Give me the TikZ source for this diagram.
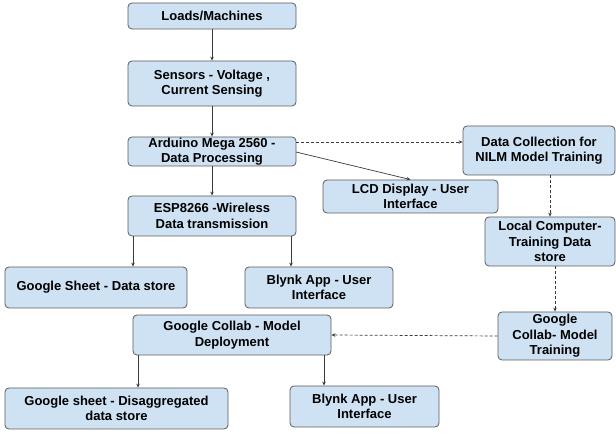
\documentclass[tikz,border=0pt]{standalone}
\usepackage{fontspec}
\setmainfont{Liberation Sans}
\usetikzlibrary{arrows.meta,calc}
\definecolor{boxfill}{HTML}{CFE2F3}
\definecolor{boxline}{HTML}{5B5B5B}
\definecolor{arrowcol}{HTML}{3A3A3A}
\tikzset{
  box/.style={draw=boxline, fill=boxfill, rounded corners=4pt, line width=0.8pt,
    align=center, inner sep=0pt,
    font=\bfseries\fontsize{13}{15.5}\selectfont},
  conn/.style={draw=arrowcol, line width=0.7pt, -{Stealth[length=4pt,width=3.5pt]}},
  dconn/.style={conn, dash pattern=on 3pt off 2pt}
}
\begin{document}
\begin{tikzpicture}[x=1pt,y=-1pt]
\useasboundingbox (0,0) rectangle (616,435);
\node[box, minimum width=168pt, minimum height=26pt] (loads) at (212,16) {Loads/Machines};
\node[box, minimum width=168pt, minimum height=45pt] (sensors) at (212,83.5) {Sensors - Voltage ,\\Current Sensing};
\node[box, minimum width=168pt, minimum height=29pt] (arduino) at (212,151.5) {Arduino Mega 2560 -\\Data Processing};
\node[box, minimum width=168pt, minimum height=40pt] (esp) at (212,216) {ESP8266 -Wireless\\Data transmission};
\node[box, minimum width=152pt, minimum height=49pt] (datacoll) at (539,150.5) {Data Collection for\\NILM Model Training};
\node[box, minimum width=175pt, minimum height=33pt] (lcd) at (410.5,196.5) {LCD Display - User\\Interface};
\node[box, minimum width=130pt, minimum height=49pt] (local) at (550,241.5) {Local Computer-\\Training Data\\store};
\node[box, minimum width=114pt, minimum height=48pt] (gtrain) at (555,336) {Google\\Collab- Model\\Training};
\node[box, minimum width=182pt, minimum height=41pt] (gsheet) at (96,287.5) {Google Sheet - Data store};
\node[box, minimum width=148pt, minimum height=41pt] (blynka) at (319,287.5) {Blynk App - User\\Interface};
\node[box, minimum width=198pt, minimum height=40pt] (deploy) at (232,335) {Google Collab - Model\\Deployment};
\node[box, minimum width=223pt, minimum height=41pt] (disagg) at (116.5,408.5) {Google sheet - Disaggregated\\data store};
\node[box, minimum width=149pt, minimum height=41pt] (blynkb) at (364.5,406.5) {Blynk App - User\\Interface};

\coordinate (adash) at (296,142);
\coordinate (alcd) at (296,152);
\coordinate (esp1) at (133,236);
\coordinate (esp2) at (291,236);
\coordinate (dep1) at (138,355);
\coordinate (dep2) at (324,355);
\coordinate (dc1) at (550,175);
\coordinate (lc1) at (555,266);

\draw[conn] (loads) -- (sensors);
\draw[conn] (sensors) -- (arduino);
\draw[conn] (arduino) -- (esp);
\draw[dconn] (adash) -- (adash -| datacoll.west);
\draw[conn] (alcd) -- (lcd.north);
\draw[conn] (esp1) -- (esp1 |- gsheet.north);
\draw[conn] (esp2) -- (esp2 |- blynka.north);
\draw[dconn] (dc1) -- (local.north);
\draw[dconn] (lc1) -- (gtrain.north);
\draw[dconn] (gtrain.west) -- (deploy.east);
\draw[conn] (dep1) -- (dep1 |- disagg.north);
\draw[conn] (dep2) -- (dep2 |- blynkb.north);
\end{tikzpicture}
\end{document}
